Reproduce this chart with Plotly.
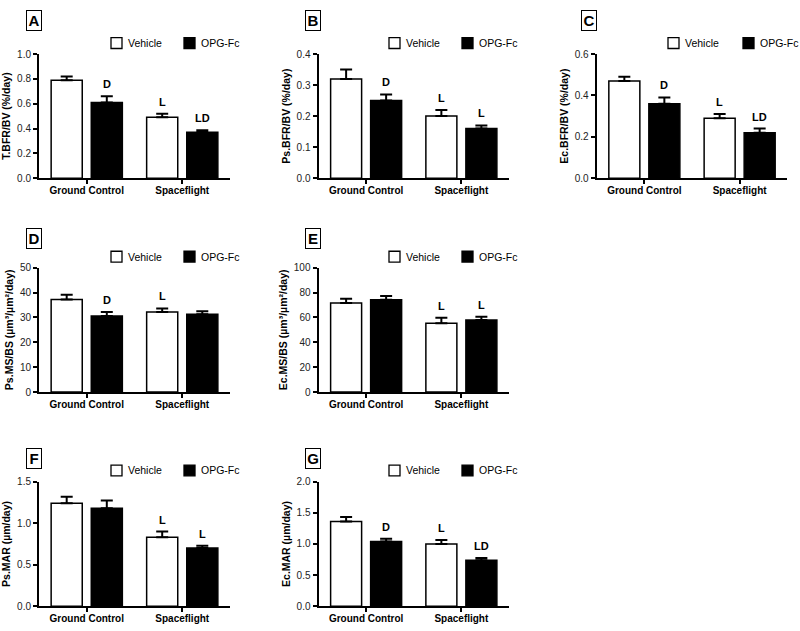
import plotly.graph_objects as go

# ---------------- data ----------------
categories = ["Ground Control", "Spaceflight"]
series_names = ["Vehicle", "OPG-Fc"]
series_colors = ["white", "black"]
panel_letters = ["A", "B", "C", "D", "E", "F", "G"]

y_titles = [
    "T.BFR/BV (%/day)",
    "Ps.BFR/BV (%/day)",
    "Ec.BFR/BV (%/day)",
    "Ps.MS/BS (µm³/µm²/day)",
    "Ec.MS/BS (µm³/µm²/day)",
    "Ps.MAR (µm/day)",
    "Ec.MAR (µm/day)",
]

# means and SEM (upper error) per panel
A_vehicle = [0.79, 0.49]; A_vehicle_err = [0.03, 0.03]
A_opg = [0.61, 0.37];     A_opg_err = [0.05, 0.017]
B_vehicle = [0.32, 0.20]; B_vehicle_err = [0.03, 0.02]
B_opg = [0.25, 0.16];     B_opg_err = [0.02, 0.01]
C_vehicle = [0.47, 0.29]; C_vehicle_err = [0.02, 0.02]
C_opg = [0.36, 0.22];     C_opg_err = [0.03, 0.02]
D_vehicle = [37.2, 32.2]; D_vehicle_err = [1.9, 1.4]
D_opg = [30.6, 31.3];     D_opg_err = [1.6, 1.2]
E_vehicle = [71.6, 55.3]; E_vehicle_err = [3.4, 4.4]
E_opg = [74.2, 57.9];     E_opg_err = [2.9, 2.6]
F_vehicle = [1.24, 0.83]; F_vehicle_err = [0.08, 0.07]
F_opg = [1.18, 0.70];     F_opg_err = [0.095, 0.03]
G_vehicle = [1.36, 1.00]; G_vehicle_err = [0.075, 0.065]
G_opg = [1.04, 0.74];     G_opg_err = [0.045, 0.035]

# significance letters above bars
A_vehicle_sig = ["", "L"]; A_opg_sig = ["D", "LD"]
B_vehicle_sig = ["", "L"]; B_opg_sig = ["D", "L"]
C_vehicle_sig = ["", "L"]; C_opg_sig = ["D", "LD"]
D_vehicle_sig = ["", "L"]; D_opg_sig = ["D", ""]
E_vehicle_sig = ["", "L"]; E_opg_sig = ["", "L"]
F_vehicle_sig = ["", "L"]; F_opg_sig = ["", "L"]
G_vehicle_sig = ["", "L"]; G_opg_sig = ["D", "LD"]

# y-axis ticks
A_ticks = [0.0, 0.2, 0.4, 0.6, 0.8, 1.0]; A_tick_labels = ["0.0", "0.2", "0.4", "0.6", "0.8", "1.0"]
B_ticks = [0.0, 0.1, 0.2, 0.3, 0.4];      B_tick_labels = ["0.0", "0.1", "0.2", "0.3", "0.4"]
C_ticks = [0.0, 0.2, 0.4, 0.6];           C_tick_labels = ["0.0", "0.2", "0.4", "0.6"]
D_ticks = [0, 10, 20, 30, 40, 50];        D_tick_labels = ["0", "10", "20", "30", "40", "50"]
E_ticks = [0, 20, 40, 60, 80, 100];       E_tick_labels = ["0", "20", "40", "60", "80", "100"]
F_ticks = [0.0, 0.5, 1.0, 1.5];           F_tick_labels = ["0.0", "0.5", "1.0", "1.5"]
G_ticks = [0.0, 0.5, 1.0, 1.5, 2.0];      G_tick_labels = ["0.0", "0.5", "1.0", "1.5", "2.0"]

panels = [
    (A_vehicle, A_vehicle_err, A_opg, A_opg_err, A_vehicle_sig, A_opg_sig, A_ticks, A_tick_labels),
    (B_vehicle, B_vehicle_err, B_opg, B_opg_err, B_vehicle_sig, B_opg_sig, B_ticks, B_tick_labels),
    (C_vehicle, C_vehicle_err, C_opg, C_opg_err, C_vehicle_sig, C_opg_sig, C_ticks, C_tick_labels),
    (D_vehicle, D_vehicle_err, D_opg, D_opg_err, D_vehicle_sig, D_opg_sig, D_ticks, D_tick_labels),
    (E_vehicle, E_vehicle_err, E_opg, E_opg_err, E_vehicle_sig, E_opg_sig, E_ticks, E_tick_labels),
    (F_vehicle, F_vehicle_err, F_opg, F_opg_err, F_vehicle_sig, F_opg_sig, F_ticks, F_tick_labels),
    (G_vehicle, G_vehicle_err, G_opg, G_opg_err, G_vehicle_sig, G_opg_sig, G_ticks, G_tick_labels),
]

# ---------------- layout geometry (pixels of 800x631 page) ----------------
W, H = 800, 631
FONT = "Liberation Sans, Arial, Helvetica, sans-serif"
col_px = [(39, 230), (318.5, 509), (596.7, 787.3)]
row_px = [(49, 175.5), (266.7, 393.5), (485, 611.8)]
grid = [(0, 0), (0, 1), (0, 2), (1, 0), (1, 1), (2, 0), (2, 1)]
letter_box_px = [(33.5, 15), (312.5, 15), (589, 15), (33.5, 236.5), (312.5, 236.5), (33.5, 461.5), (312.5, 461.5)]
# legend key squares (left edges for Vehicle / OPG-Fc) per column, and row centres
legend_sq_left = [(111, 184), (389, 462), (668, 743)]
legend_row_y = [37.8, 255.5, 473.5]
SQ = 11

fig = go.Figure()
layout = dict(
    width=W, height=H,
    margin=dict(l=0, r=0, t=0, b=0),
    paper_bgcolor="white", plot_bgcolor="white",
    barmode="group", bargap=0.16, bargroupgap=0.225,
    font=dict(family=FONT, size=10, color="black"),
    showlegend=False,
    annotations=[], shapes=[],
)

for i, (veh, veh_err, opg, opg_err, veh_sig, opg_sig, ticks, tick_labels) in enumerate(panels):
    r, c = grid[i]
    sfx = "" if i == 0 else str(i + 1)
    xa, ya = "x" + sfx, "y" + sfx
    for name, vals, errs, fill in ((series_names[0], veh, veh_err, series_colors[0]),
                                   (series_names[1], opg, opg_err, series_colors[1])):
        fig.add_trace(go.Bar(
            x=categories, y=vals, name=name, xaxis=xa, yaxis=ya,
            marker=dict(color=fill, line=dict(color="black", width=1.5)),
            error_y=dict(type="data", array=errs, arrayminus=[0] * len(errs), symmetric=False,
                         color="black", thickness=2, width=6),
            hoverinfo="skip",
        ))
    x0, x1 = col_px[c]
    y0, y1 = row_px[r]
    layout["xaxis" + sfx] = dict(
        domain=[x0 / W, x1 / W], anchor=ya, type="category", range=[-0.5, 1.5],
        showline=True, linecolor="black", linewidth=2, ticks="outside", ticklen=4,
        tickwidth=2, tickcolor="black", showgrid=False, zeroline=False,
        ticklabelstandoff=-2,
        tickfont=dict(family=FONT, size=10, color="black", weight="bold"),
    )
    layout["yaxis" + sfx] = dict(
        domain=[1 - y1 / H, 1 - y0 / H], anchor=xa, range=[0, ticks[-1]],
        tickvals=ticks, ticktext=tick_labels,
        showline=True, linecolor="black", linewidth=2, ticks="outside", ticklen=4,
        tickwidth=1.5, tickcolor="black", showgrid=False, zeroline=False,
        tickfont=dict(family=FONT, size=10, color="#222"),
        title=dict(text=y_titles[i], standoff=4,
                   font=dict(family=FONT, size=10.5, color="black", weight="bold")),
    )
    # legend key (one per panel)
    cy = legend_row_y[r]
    for k, name in enumerate(series_names):
        sl = legend_sq_left[c][k]
        layout["shapes"].append(dict(
            type="rect", xref="paper", yref="paper",
            x0=sl / W, x1=(sl + SQ) / W, y0=1 - (cy + SQ / 2) / H, y1=1 - (cy - SQ / 2) / H,
            fillcolor=series_colors[k], line=dict(color="black", width=1.3),
        ))
        layout["annotations"].append(dict(
            text=name, xref="paper", yref="paper", x=(sl + SQ + 4) / W, y=1 - cy / H,
            xanchor="left", yanchor="middle", showarrow=False,
            font=dict(family=FONT, size=10.5, color="black"),
        ))
    # panel letter in box
    bx, by = letter_box_px[i]
    layout["annotations"].append(dict(
        text="<b>%s</b>" % panel_letters[i], xref="paper", yref="paper",
        x=bx / W, y=1 - by / H, xanchor="center", yanchor="middle", showarrow=False,
        font=dict(family=FONT, size=15, color="black"), bordercolor="black", borderwidth=1,
        borderpad=1, width=12, height=17,
    ))
    # significance letters
    for sigs, vals, errs, shift in ((veh_sig, veh, veh_err, -20), (opg_sig, opg, opg_err, 20)):
        for cat, s, v, e in zip(categories, sigs, vals, errs):
            if s:
                layout["annotations"].append(dict(
                    text="<b>%s</b>" % s, xref=xa, yref=ya, x=cat, y=v + e,
                    xshift=shift, yshift=4, yanchor="bottom", showarrow=False,
                    font=dict(family=FONT, size=11, color="black"),
                ))

fig.update_layout(**layout)
fig.write_html(
    "out.html",
    config={"displayModeBar": False},
    post_script="document.body.style.margin='0';document.body.style.overflow='hidden';",
)
